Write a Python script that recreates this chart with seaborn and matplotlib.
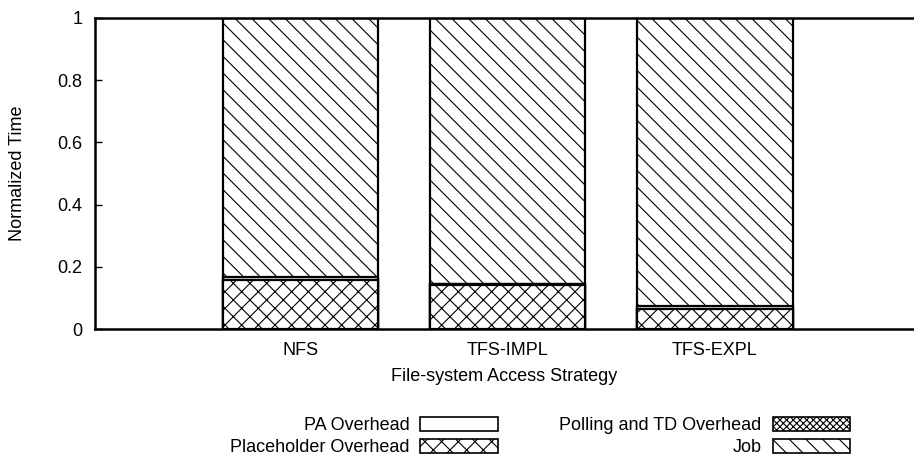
import matplotlib
matplotlib.use("Agg")
import matplotlib.pyplot as plt
from matplotlib.patches import Patch
import numpy as np
import seaborn as sns

# Normalized time breakdown per file-system access strategy (stack order bottom -> top)
strategies = ["NFS", "TFS-IMPL", "TFS-EXPL"]
placeholder = [0.158, 0.143, 0.064]
polling_td = [0.001, 0.001, 0.001]
pa_overhead = [0.010, 0.002, 0.010]
job = [0.831, 0.854, 0.925]

yticks = [0, 0.2, 0.4, 0.6, 0.8, 1]
ytick_labels = ["0", "0.2", "0.4", "0.6", "0.8", "1"]

sns.set_theme(style="white")
plt.rcParams["font.family"] = ["Liberation Sans", "DejaVu Sans"]
plt.rcParams["text.color"] = "black"
plt.rcParams["axes.labelcolor"] = "black"
plt.rcParams["xtick.color"] = "black"
plt.rcParams["ytick.color"] = "black"
plt.rcParams["hatch.linewidth"] = 0.8
plt.rcParams["hatch.color"] = "black"

FS = 13

fig = plt.figure(figsize=(9.14, 4.59), dpi=100)
ax = fig.add_axes([0.104, 0.283, 0.896, 0.678])

# cumulative tops, drawn tallest first so each lower segment overlays the next
c1 = np.array(placeholder)
c2 = c1 + np.array(polling_td)
c3 = c2 + np.array(pa_overhead)
c4 = c3 + np.array(job)

layers = [
    (c4, "\\\\"),      # Job
    (c3, ""),          # PA Overhead
    (c2, "xxxxx"),     # Polling and TD Overhead
    (c1, "xx"),        # Placeholder Overhead
]
for tops, hatch in layers:
    sns.barplot(x=strategies, y=list(tops), color="white", saturation=1,
                edgecolor="black", linewidth=1.6, hatch=hatch, width=0.75,
                errorbar=None, ax=ax)

ax.set_xlim(-0.99, 2.96)
ax.set_ylim(0, 1)
ax.set_yticks(yticks)
ax.set_yticklabels(ytick_labels, fontsize=FS)
ax.tick_params(axis="x", length=0, labelsize=FS, pad=9)
ax.tick_params(axis="y", direction="in", length=5, width=1, left=True, pad=9)
for s in ["left", "bottom", "top"]:
    ax.spines[s].set_visible(True)
    ax.spines[s].set_linewidth(1.8)
    ax.spines[s].set_color("black")
ax.spines["right"].set_visible(False)

ax.set_xlabel("File-system Access Strategy", fontsize=FS, labelpad=7)
ax.set_ylabel("Normalized Time", fontsize=FS)
ax.yaxis.set_label_coords(-0.084, 0.5)

handles = [
    Patch(facecolor="white", edgecolor="black", linewidth=1.2, hatch="", label="PA Overhead"),
    Patch(facecolor="white", edgecolor="black", linewidth=1.2, hatch="xxxxx", label="Polling and TD Overhead"),
    Patch(facecolor="white", edgecolor="black", linewidth=1.2, hatch="xx", label="Placeholder Overhead"),
    Patch(facecolor="white", edgecolor="black", linewidth=1.2, hatch="\\\\", label="Job"),
]
# two columns, filled column by column: PA/Placeholder on the left, Polling/Job on the right
order = [0, 2, 1, 3]
fig.legend([handles[i] for i in order], [handles[i].get_label() for i in order],
           ncol=2, loc="center", bbox_to_anchor=(0.591, 0.049), frameon=False,
           markerfirst=False, fontsize=FS, handlelength=4.3, handleheight=0.8,
           handletextpad=0.6, columnspacing=3.4, labelspacing=0.25,
           borderpad=0, borderaxespad=0)

fig.savefig("out.png", dpi=100)
